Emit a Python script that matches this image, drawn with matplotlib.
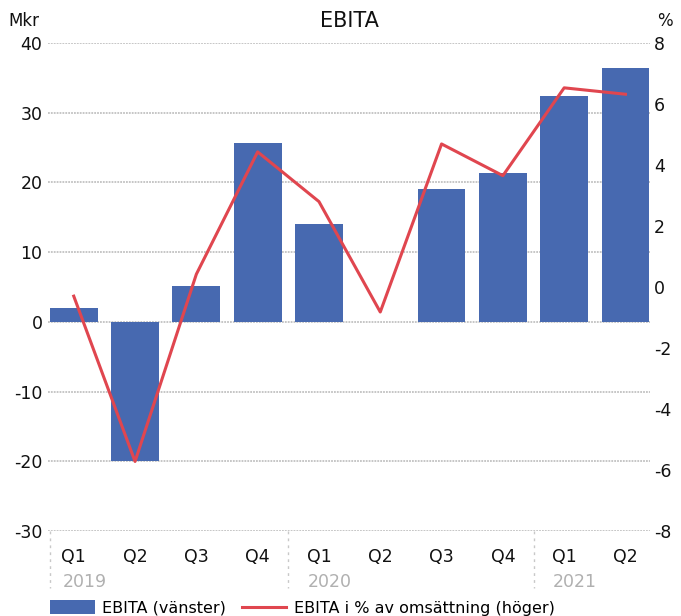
import matplotlib
matplotlib.use("Agg")
import matplotlib.pyplot as plt
import matplotlib.transforms as mtransforms
from matplotlib.patches import Patch
from matplotlib.lines import Line2D
import numpy as np

plt.rcParams['font.family'] = ['DejaVu Sans']

quarters = ["Q1", "Q2", "Q3", "Q4", "Q1", "Q2", "Q3", "Q4", "Q1", "Q2"]
years = ["2019", "2020", "2021"]
year_start_idx = [0, 4, 8]
ebita = [2.0, -20.0, 5.2, 25.6, 14.1, 0.0, 19.1, 21.3, 32.4, 36.4]
ebita_pct = [-0.30, -5.72, 0.42, 4.43, 2.80, -0.82, 4.69, 3.65, 6.53, 6.32]
left_ticks = [-30, -20, -10, 0, 10, 20, 30, 40]
right_ticks = [-8, -6, -4, -2, 0, 2, 4, 6, 8]

bar_color = "#4769b0"
line_color = "#e0464f"
grid_color = "#c2c2c2"

fig = plt.figure(figsize=(6.81, 6.16), dpi=100)
ax = fig.add_axes([48/681, 1-531/616, 602/681, 488/616])
ax2 = ax.twinx()

x = np.arange(len(quarters))
ax.bar(x, ebita, width=0.78, color=bar_color, zorder=2)
ax.set_xlim(-0.42, 9.4)
ax.set_ylim(-30, 40)
ax.set_yticks(left_ticks)
ax.set_yticklabels([str(t) for t in left_ticks])
for t in left_ticks:
    ax.axhline(t, color=grid_color, lw=1.3, ls=(0, (1, 0.6)), zorder=1)

ax2.plot(x, ebita_pct, color=line_color, lw=2.2, zorder=3)
ax2.set_ylim(-8, 8)
ax2.set_yticks(right_ticks)
ax2.set_yticklabels([str(t) for t in right_ticks])

for a in (ax, ax2):
    for s in a.spines.values():
        s.set_visible(False)
ax.tick_params(axis='y', length=0, pad=4, labelsize=12.5, labelcolor="#111111")
ax2.tick_params(axis='y', length=0, pad=3, labelsize=12.5, labelcolor="#111111")

ax.set_xticks(x)
ax.set_xticklabels(quarters)
ax.tick_params(axis='x', length=0, pad=12, labelsize=12.5, labelcolor="#111111")

trans = mtransforms.blended_transform_factory(ax.transData, ax.transAxes)
for yr, i in zip(years, year_start_idx):
    ax.text(i - 0.18, -0.104, yr, transform=trans, ha='left', va='center',
            fontsize=12.5, color="#b0b0b0")

for sx in [-0.39, 3.5, 7.5]:
    ax.plot([sx, sx], [0, -0.117], transform=trans, color="#c8c8c8",
            lw=1.0, ls=(0, (2, 3)), clip_on=False)

fig.text(349/681, 1-21/616, "EBITA", ha='center', va='center', fontsize=15, color="#111111")
fig.text(8/681, 1-21/616, "Mkr", ha='left', va='center', fontsize=12, color="#111111")
fig.text(657/681, 1-21/616, "%", ha='left', va='center', fontsize=12, color="#111111")

handles = [Patch(facecolor=bar_color, edgecolor='none'),
           Line2D([0], [0], color=line_color, lw=2.2)]
labels = ["EBITA (vänster)", "EBITA i % av omsättning (höger)"]
fig.legend(handles, labels, loc='center left', bbox_to_anchor=(50/681, 1-608/616),
           ncol=2, frameon=False, fontsize=11.5, handlelength=2.8, handleheight=0.9,
           handletextpad=0.45, columnspacing=1.0, borderpad=0, borderaxespad=0)

fig.savefig("out.png", dpi=100)
